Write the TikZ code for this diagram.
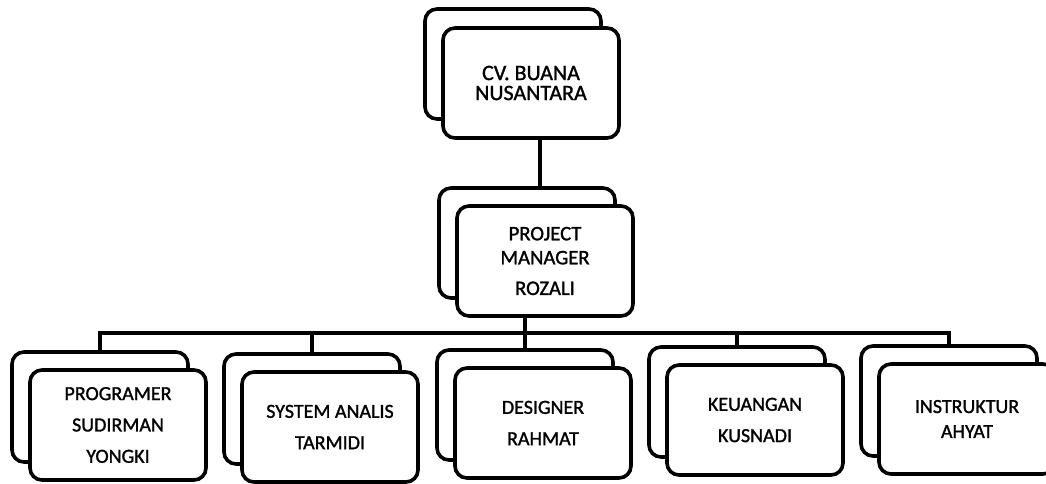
\documentclass[tikz,border=0pt]{standalone}
\usepackage{fontspec}
\setmainfont{Carlito}[FakeBold=1.3]
\begin{document}
\begin{tikzpicture}[x=0.75pt,y=-0.75pt,
  box/.style={draw, line width=2.7pt, rounded corners=9pt, fill=white,
    minimum width=132pt, minimum height=82.5pt, inner sep=0pt, align=center,
    font=\fontsize{15}{23.5}\selectfont},
  conn/.style={line width=2.7pt}]
\clip (0,0) rectangle (1046,483);
\fill[white] (0,0) rectangle (1046,483);
% top
\node[box] (cvb) at (513,64) {};
\node[box, font=\fontsize{16.5}{15}\selectfont] (cv) at (531,83) {CV. BUANA\\NUSANTARA};
% project manager
\node[box] (pmb) at (527,243) {};
\node[box, font=\fontsize{15.5}{18}\selectfont] (pm) at (545,261) {PROJECT\\MANAGER\\[5pt]ROZALI};
% bottom row
\node[box] (progb) at (100,407) {};
\node[box] (prog) at (118,425) {PROGRAMER\\SUDIRMAN\\YONGKI};
\node[box] (sysb) at (312,409) {};
\node[box] (sys) at (330,427) {SYSTEM ANALIS\\TARMIDI};
\node[box] (desb) at (525,405) {};
\node[box] (des) at (543,423) {DESIGNER\\RAHMAT};
\node[box] (keub) at (737,402) {};
\node[box] (keu) at (755,420) {KEUANGAN\\KUSNADI};
\node[box] (insb) at (949,401) {};
\node[box, font=\fontsize{15}{18.75}\selectfont] (ins) at (967,419) {INSTRUKTUR\\AHYAT};
% connectors
\coordinate (topline) at (540,0);
\coordinate (bus) at (525,333);
\draw[conn] (cv.south -| topline) -- (pmb.north -| topline);
\draw[conn] (pm.south -| desb.north) -- (desb.north);
\draw[conn] (progb.north) |- (bus) -| (insb.north);
\draw[conn] (sysb.north) -- (sysb.north |- bus);
\draw[conn] (keub.north) -- (keub.north |- bus);
\end{tikzpicture}
\end{document}
